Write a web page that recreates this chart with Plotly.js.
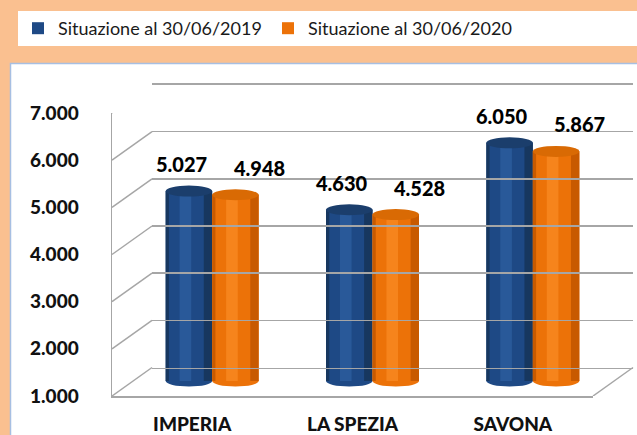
<!DOCTYPE html>
<html>
<head>
<meta charset="utf-8">
<script src="https://cdn.plot.ly/plotly-3.0.1.min.js"></script>
<style>html,body{margin:0;padding:0;background:#FAC090;}#chart{width:637px;height:435px;}</style>
</head>
<body>
<div id="chart"></div>
<script>
// ---- data ----
const categories = ['IMPERIA', 'LA SPEZIA', 'SAVONA'];
const seriesNames = ['Situazione al 30/06/2019', 'Situazione al 30/06/2020'];
const values2019 = [5027, 4630, 6050];
const values2020 = [4948, 4528, 5867];
const yTickVals = [1000, 2000, 3000, 4000, 5000, 6000, 7000];
const yTickText = ['1.000', '2.000', '3.000', '4.000', '5.000', '6.000', '7.000'];

// ---- geometry (pixels) ----
const W = 637, H = 435;
const px = v => v / W;
const py = v => (H - v) / H;
const front = {x0: 112, x1: 593, yb: 396, yt: 113};
const DX = 40, DY = 28.5;
const mid = {x0: front.x0 + DX / 2, x1: front.x1 + DX / 2, yb: front.yb - 15, yt: front.yt - 15};
const back = {x0: front.x0 + DX, x1: front.x1 + DX, yb: front.yb - DY, yt: front.yt - DY};
const gridCol = '#A6A6A6';
const fmt = v => String(v).replace(/\B(?=(\d{3})+(?!\d))/g, '.');

const BW = 0.29; // bar width in category units
const series = [
  {name: seriesNames[0], y: values2019, off: -BW, cols: ['#17375F', '#1E4985', '#2A5B9B'], cap: '#1B3E6C', lx: -31},
  {name: seriesNames[1], y: values2020, off: 0, cols: ['#C85A00', '#EC7208', '#F7861F'], cap: '#D96A04', lx: 47}
];

const traces = [];
traces.push({type: 'scatter', x: categories, y: [null, null, null], xaxis: 'x', yaxis: 'y', mode: 'markers',
  showlegend: false, hoverinfo: 'skip'});
traces.push({type: 'scatter', x: [0], y: [1000], xaxis: 'x3', yaxis: 'y3', mode: 'markers',
  marker: {opacity: 0}, showlegend: false, hoverinfo: 'skip'});
series.forEach((s, si) => {
  traces.push({type: 'bar', x: categories, y: s.y, name: s.name, xaxis: 'x2', yaxis: 'y2',
    offset: s.off, width: BW, marker: {color: s.cols[1], line: {width: 0}}, hoverinfo: 'x+y', showlegend: true, legendrank: si});
  traces.push({type: 'bar', x: categories, y: s.y, xaxis: 'x2', yaxis: 'y2',
    offset: s.off + BW * 0.82, width: BW * 0.18, marker: {color: s.cols[0], line: {width: 0}}, hoverinfo: 'skip', showlegend: false});
  traces.push({type: 'bar', x: categories, y: s.y, xaxis: 'x2', yaxis: 'y2',
    offset: s.off, width: BW * 0.07, marker: {color: s.cols[0], line: {width: 0}}, hoverinfo: 'skip', showlegend: false});
  traces.push({type: 'bar', x: categories, y: s.y, xaxis: 'x2', yaxis: 'y2',
    offset: s.off + BW * 0.3, width: BW * 0.25, marker: {color: s.cols[2], line: {width: 0}, opacity: 0.9}, hoverinfo: 'skip', showlegend: false});
});

const shapes = [];
shapes.push({type: 'rect', xref: 'paper', yref: 'paper', x0: px(18), x1: px(640), y0: py(46), y1: py(11),
  fillcolor: '#FFFFFF', line: {width: 0}, layer: 'below'});
shapes.push({type: 'rect', xref: 'paper', yref: 'paper', x0: px(10.5), x1: px(660), y0: py(460), y1: py(63.5),
  fillcolor: '#FFFFFF', line: {width: 1.5, color: '#A7BFE2'}, layer: 'below'});
yTickVals.forEach(v => {
  shapes.push({type: 'line', xref: 'paper', xsizemode: 'pixel', xanchor: px(front.x0), x0: 0, x1: DX,
    yref: 'y', ysizemode: 'pixel', yanchor: v, y0: 0, y1: DY, line: {color: gridCol, width: 1.5}, layer: 'below'});
});
shapes.push({type: 'line', xref: 'paper', xsizemode: 'pixel', xanchor: px(front.x1), x0: 0, x1: DX,
  yref: 'y', ysizemode: 'pixel', yanchor: yTickVals[0], y0: 0, y1: DY, line: {color: gridCol, width: 1.5}, layer: 'below'});
series.forEach(s => {
  s.y.forEach((v, i) => {
    shapes.push({type: 'circle', xref: 'x2', yref: 'paper', x0: i + s.off, x1: i + s.off + BW,
      ysizemode: 'pixel', yanchor: py(mid.yb), y0: -5.5, y1: 5.5, fillcolor: s.cols[1], line: {width: 0}, layer: 'below'});
    shapes.push({type: 'circle', xref: 'x2', yref: 'y2', x0: i + s.off, x1: i + s.off + BW,
      ysizemode: 'pixel', yanchor: v, y0: -5.5, y1: 5.5, fillcolor: s.cap, line: {width: 0}, layer: 'above'});
  });
});

const labelFont = {family: 'Lato', size: 20, color: '#000000', weight: 900};
const annotations = [];
series.forEach(s => {
  s.y.forEach((v, i) => {
    annotations.push({xref: 'x2', yref: 'y2', x: categories[i], y: v, text: fmt(v), showarrow: false,
      xshift: s.lx, yshift: 27, font: labelFont});
  });
});

const tickFont = {family: 'Lato', size: 19, color: '#111111', weight: 900};
const layout = {
  width: W, height: H,
  margin: {l: 0, r: 0, t: 0, b: 0, pad: 0},
  paper_bgcolor: '#FAC090', plot_bgcolor: 'rgba(0,0,0,0)',
  barmode: 'overlay',
  font: {family: 'Lato', color: '#111111'},
  showlegend: true,
  legend: {orientation: 'h', x: px(18), y: py(28.5), xanchor: 'left', yanchor: 'middle',
    bgcolor: 'rgba(0,0,0,0)', font: {family: 'Lato', size: 18, color: '#1a1a1a'},
    entrywidth: 205, entrywidthmode: 'pixels', traceorder: 'normal', itemclick: false},
  xaxis: {domain: [px(front.x0), px(front.x1)], type: 'category', range: [-0.5, 2.5], anchor: 'y',
    showline: true, linecolor: gridCol, linewidth: 1.5, showgrid: false, ticks: '', ticklabelstandoff: 11,
    tickfont: tickFont, fixedrange: true},
  yaxis: {domain: [py(front.yb), py(front.yt)], range: [1000, 7000], anchor: 'x',
    tickvals: yTickVals, ticktext: yTickText, showline: true, linecolor: gridCol, linewidth: 1.5,
    showgrid: false, zeroline: false, ticks: '', ticklabelstandoff: 28, tickfont: tickFont, fixedrange: true},
  xaxis2: {domain: [px(mid.x0), px(mid.x1)], type: 'category', range: [-0.5, 2.5], anchor: 'y2',
    visible: false, fixedrange: true},
  yaxis2: {domain: [py(mid.yb), py(mid.yt)], range: [1000, 7000], anchor: 'x2', visible: false, fixedrange: true},
  xaxis3: {domain: [px(back.x0), px(back.x1)], range: [0, 1], anchor: 'y3', showline: true, mirror: true,
    linecolor: gridCol, linewidth: 1.5, showgrid: false, zeroline: false, showticklabels: false, ticks: '', fixedrange: true},
  yaxis3: {domain: [py(back.yb), py(back.yt)], range: [1000, 7000], anchor: 'x3', tickvals: yTickVals,
    showgrid: true, gridcolor: gridCol, gridwidth: 1.5, showline: false,
    zeroline: false, showticklabels: false, ticks: '', fixedrange: true},
  shapes: shapes,
  annotations: annotations
};

Plotly.newPlot('chart', traces, layout, {displayModeBar: false, staticPlot: true});
</script>
</body>
</html>
